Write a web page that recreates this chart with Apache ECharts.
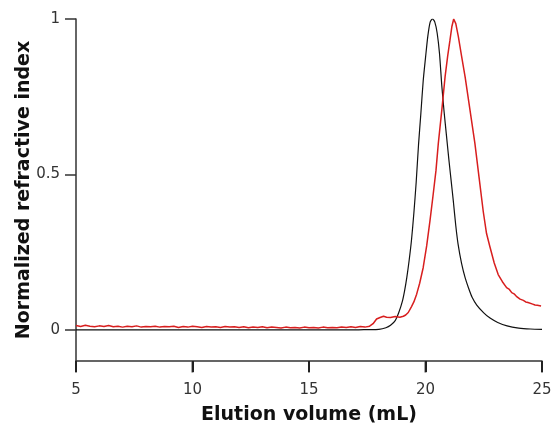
<!DOCTYPE html>
<html>
<head>
<meta charset="utf-8">
<script src="https://cdn.jsdelivr.net/npm/echarts@6/dist/echarts.min.js"></script>
<style>
html,body{margin:0;padding:0;background:#fff;}
#c{width:551px;height:424px;}
</style>
</head>
<body>
<div id="c"></div>
<script>
// Axis settings (tick labels)
const xTicks = [5, 10, 15, 20, 25];
const yTicks = [0, 0.5, 1];
const xTitle = 'Elution volume (mL)';
const yTitle = 'Normalized refractive index';

// Black trace
const blackVolume = [5, 8, 11, 14, 17, 17.5, 18.0, 18.3, 18.5, 18.7, 18.85, 19.0, 19.1, 19.2, 19.3, 19.4, 19.5, 19.6, 19.7, 19.8, 19.9, 20.0, 20.1, 20.2, 20.3, 20.4, 20.5, 20.6, 20.7, 20.8, 20.9, 21.0, 21.1, 21.2, 21.3, 21.4, 21.55, 21.7, 21.85, 22.0, 22.2, 22.5, 22.77, 23.1, 23.5, 24.0, 24.5, 25.0];
const blackSignal = [0, 0, 0, 0, 0, 0.001, 0.002, 0.007, 0.015, 0.03, 0.055, 0.09, 0.125, 0.17, 0.225, 0.29, 0.375, 0.475, 0.595, 0.695, 0.8, 0.875, 0.945, 0.99, 1.0, 0.99, 0.955, 0.89, 0.785, 0.7, 0.625, 0.55, 0.48, 0.41, 0.335, 0.275, 0.213, 0.168, 0.134, 0.105, 0.08, 0.055, 0.038, 0.024, 0.013, 0.006, 0.003, 0.002];

// Red trace
const redVolume = [5.0, 5.2, 5.4, 5.6, 5.8, 6.0, 6.2, 6.4, 6.6, 6.8, 7.0, 7.2, 7.4, 7.6, 7.8, 8.0, 8.2, 8.4, 8.6, 8.8, 9.0, 9.2, 9.4, 9.6, 9.8, 10.0, 10.2, 10.4, 10.6, 10.8, 11.0, 11.2, 11.4, 11.6, 11.8, 12.0, 12.2, 12.4, 12.6, 12.8, 13.0, 13.2, 13.4, 13.6, 13.8, 14.0, 14.2, 14.4, 14.6, 14.8, 15.0, 15.2, 15.4, 15.6, 15.8, 16.0, 16.2, 16.4, 16.6, 16.8, 17.0, 17.2, 17.4, 17.6, 17.75, 17.9, 18.05, 18.2, 18.33, 18.5, 18.7, 18.9, 19.05, 19.15, 19.26, 19.4, 19.5, 19.62, 19.75, 19.9, 20.05, 20.19, 20.32, 20.45, 20.55, 20.7, 20.84, 20.95, 21.05, 21.13, 21.21, 21.3, 21.41, 21.55, 21.7, 21.91, 22.12, 22.3, 22.48, 22.62, 22.77, 22.95, 23.12, 23.3, 23.48, 23.6, 23.7, 23.8, 23.9, 24.06, 24.2, 24.3, 24.4, 24.48, 24.6, 24.7, 24.8, 24.96];
const redSignal = [0.014, 0.011, 0.015, 0.012, 0.010, 0.013, 0.011, 0.014, 0.010, 0.012, 0.009, 0.012, 0.010, 0.013, 0.009, 0.011, 0.010, 0.012, 0.009, 0.011, 0.010, 0.012, 0.008, 0.011, 0.009, 0.012, 0.010, 0.008, 0.011, 0.009, 0.010, 0.008, 0.011, 0.009, 0.010, 0.008, 0.010, 0.007, 0.009, 0.008, 0.010, 0.007, 0.009, 0.008, 0.006, 0.009, 0.007, 0.008, 0.006, 0.009, 0.007, 0.008, 0.006, 0.009, 0.007, 0.008, 0.007, 0.009, 0.008, 0.010, 0.008, 0.011, 0.009, 0.012, 0.02, 0.035, 0.04, 0.044, 0.041, 0.040, 0.043, 0.041, 0.044, 0.048, 0.056, 0.075, 0.09, 0.115, 0.15, 0.2, 0.27, 0.35, 0.43, 0.513, 0.6, 0.707, 0.814, 0.88, 0.932, 0.975, 1.0, 0.985, 0.943, 0.88, 0.814, 0.707, 0.6, 0.49, 0.38, 0.31, 0.266, 0.215, 0.178, 0.155, 0.136, 0.13, 0.12, 0.116, 0.108, 0.099, 0.095, 0.09, 0.088, 0.085, 0.083, 0.08, 0.079, 0.077];

function pairs(xs, ys) { return xs.map((x, i) => [x, ys[i]]); }

const chart = echarts.init(document.getElementById('c'), null, {renderer: 'canvas'});
const axisColor = '#333';
const yMin = -0.1;
const labelFont = {fontFamily: 'DejaVu Sans', fontSize: 15, color: '#333'};
const titleFont = {fontFamily: 'DejaVu Sans', fontSize: 19, fontWeight: 'bold', color: '#111'};

chart.setOption({
  animation: false,
  backgroundColor: '#fff',
  grid: {left: 76, right: 9, top: 19, bottom: 63, containLabel: false, outerBoundsMode: 'none'},
  xAxis: {
    type: 'value', position: 'bottom', min: 5, max: 25, interval: 5,
    name: xTitle, nameLocation: 'middle', nameGap: 45, nameMoveOverlap: false, nameTextStyle: titleFont,
    axisLine: {show: true, onZero: false, lineStyle: {color: axisColor, width: 1.5}},
    axisTick: {show: true, length: 11, inside: false, customValues: xTicks, lineStyle: {color: '#222', width: 2}},
    axisLabel: Object.assign({margin: 22}, labelFont),
    splitLine: {show: false}
  },
  yAxis: {
    type: 'value', position: 'left', min: yMin, max: 1,
    name: yTitle, nameLocation: 'middle', nameGap: 42, nameMoveOverlap: false, nameRotate: 90, nameTextStyle: titleFont,
    axisLine: {show: true, onZero: false, lineStyle: {color: axisColor, width: 1.5}},
    axisTick: {show: true, length: 11, customValues: yTicks, lineStyle: {color: axisColor, width: 1.5}},
    axisLabel: Object.assign({margin: 16, customValues: yTicks}, labelFont),
    splitLine: {show: false}
  },
  series: [
    {type: 'line', data: pairs(blackVolume, blackSignal), showSymbol: false, smooth: 0.25,
     lineStyle: {color: '#111', width: 1.2}, z: 2},
    {type: 'line', data: pairs(redVolume, redSignal), showSymbol: false, smooth: false,
     lineStyle: {color: '#d81e1e', width: 1.5}, z: 3},
    {type: 'scatter', data: xTicks.map(v => [v, yMin]), symbol: 'rect', symbolSize: [2, 11],
     symbolOffset: [0, 6], clip: false, silent: true, itemStyle: {color: '#222'}, z: 10, zlevel: 1}
  ]
});
</script>
</body>
</html>
